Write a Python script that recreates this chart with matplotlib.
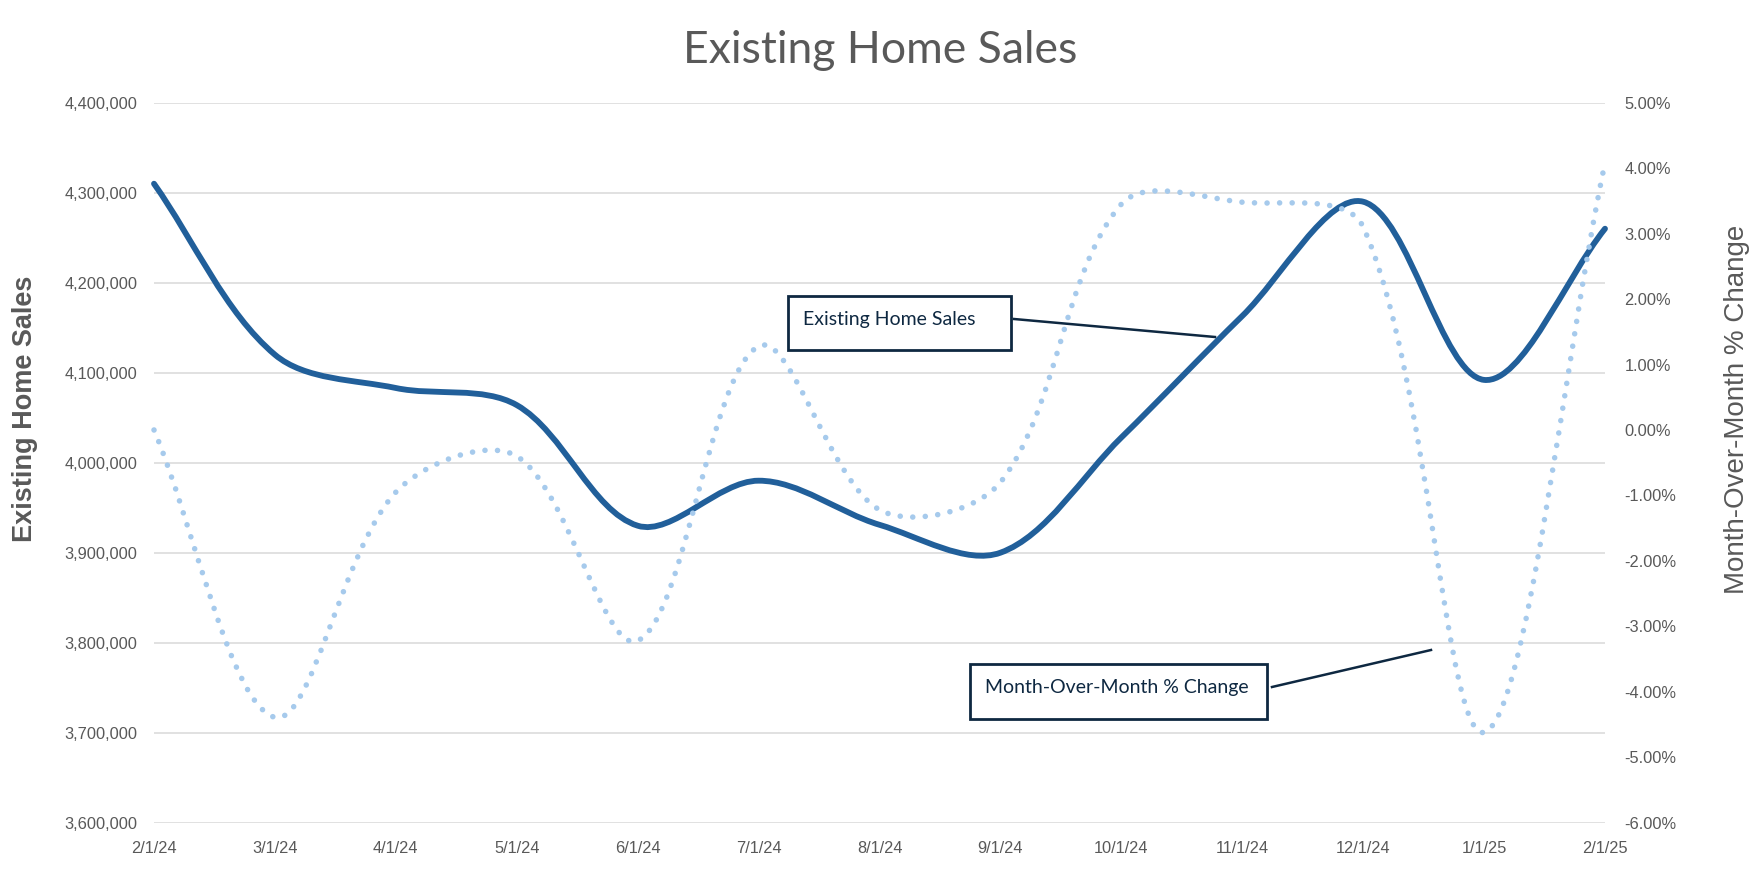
import matplotlib
matplotlib.use("Agg")
import matplotlib.pyplot as plt
import matplotlib.ticker as mticker
from matplotlib.path import Path
from matplotlib.patches import PathPatch, Rectangle
from matplotlib.lines import Line2D
import numpy as np

# monthly data
months = ['2/1/24', '3/1/24', '4/1/24', '5/1/24', '6/1/24', '7/1/24', '8/1/24',
          '9/1/24', '10/1/24', '11/1/24', '12/1/24', '1/1/25', '2/1/25']
home_sales = [4310000, 4120000, 4083000, 4064000, 3930000, 3980000, 3931000,
              3900000, 4028000, 4163000, 4290000, 4092000, 4260000]
mom_change = [0.00, -4.39, -0.95, -0.40, -3.22, 1.28, -1.22,
              -0.80, 3.45, 3.48, 3.10, -4.62, 4.08]  # percent

W, H = 1763, 874
GREY = '#595959'
NAVY = '#0E2841'
TEXT_FONT = ['Lato', 'DejaVu Sans']
TICK_FONT = ['Liberation Sans', 'DejaVu Sans']


def fx(px):
    return px / W


def fy(py):
    return 1 - py / H


def smooth_path(axis, xs, ys):
    """Excel-like smoothed line: cubic Bezier through every point,
    tangents split by chord length (worked out in screen space)."""
    pts = axis.transData.transform(np.column_stack([xs, ys]).astype(float))
    n = len(pts)
    d = np.hypot(*np.diff(pts, axis=0).T)
    verts = [pts[0]]
    codes = [Path.MOVETO]
    for i in range(n - 1):
        # control point leaving pts[i]
        if i == 0:
            c1 = pts[0] + (pts[1] - pts[0]) / 3
        else:
            t = pts[i + 1] - pts[i - 1]
            c1 = pts[i] + t / 3 * d[i] / (d[i - 1] + d[i])
        # control point entering pts[i+1]
        if i + 2 >= n:
            c2 = pts[i + 1] - (pts[i + 1] - pts[i]) / 3
        else:
            t = pts[i + 2] - pts[i]
            c2 = pts[i + 1] - t / 3 * d[i] / (d[i] + d[i + 1])
        verts += [c1, c2, pts[i + 1]]
        codes += [Path.CURVE4] * 3
    verts = axis.transData.inverted().transform(np.array(verts))
    return Path(verts, codes)


fig = plt.figure(figsize=(W / 100, H / 100), dpi=100)
ax = fig.add_axes([fx(154), 1 - 822.7 / H, (1605 - 154) / W, 720 / H])
x = np.arange(len(months))

ax.set_xlim(0, len(months) - 1)
ax.set_ylim(3600000, 4400000)
ax.set_yticks(np.arange(3600000, 4400001, 100000))
ax.yaxis.set_major_formatter(mticker.StrMethodFormatter('{x:,.0f}'))
ax.set_xticks(x)
ax.set_xticklabels(months)
ax.grid(axis='y', color='#D9D9D9', lw=1.1)
ax.set_axisbelow(True)
for s in ax.spines.values():
    s.set_visible(False)
ax.tick_params(axis='both', length=0, labelsize=11.8, labelcolor=GREY)
ax.tick_params(axis='y', pad=12)
ax.tick_params(axis='x', pad=13)

ax2 = ax.twinx()
ax2.set_ylim(-6, 5)
ax2.set_yticks(np.arange(-6, 5.01, 1))
ax2.yaxis.set_major_formatter(mticker.FuncFormatter(lambda v, p: f'{v:.2f}%'))
for s in ax2.spines.values():
    s.set_visible(False)
ax2.tick_params(axis='y', length=0, labelsize=11.8, labelcolor=GREY, pad=14)

sales_patch = PathPatch(smooth_path(ax, x, home_sales), fill=False, ec='#215F9A',
                        lw=4.2, capstyle='round', joinstyle='round', clip_on=False)
ax.add_patch(sales_patch)

mom_patch = PathPatch(smooth_path(ax2, x, mom_change), fill=False, ec='#A6CAEC',
                      lw=4.0, ls=(0, (0.01, 2.25)), capstyle='round', clip_on=False)
ax2.add_patch(mom_patch)

for lab in ax.get_xticklabels() + ax.get_yticklabels() + ax2.get_yticklabels():
    lab.set_family(TICK_FONT)

# titles
fig.text(fx(880), fy(63), 'Existing Home Sales', ha='center', va='baseline',
         fontsize=32, color=GREY, family=TEXT_FONT)
fig.text(fx(25), fy(409), 'Existing Home Sales', rotation=90, ha='center',
         va='center', fontsize=19.5, fontweight='bold', color=GREY, family=TICK_FONT)
fig.text(fx(1737), fy(409), 'Month-Over-Month % Change', rotation=90, ha='center',
         va='center', fontsize=20, color=GREY, family=TICK_FONT)

# callout boxes
boxes = [
    ((788, 296, 1011, 350), (803, 325), 'Existing Home Sales',
     ((1014, 319), (1215, 337))),
    ((970, 664, 1267, 719), (985, 693), 'Month-Over-Month % Change',
     ((1272, 687), (1431, 650))),
]
for (x0, y0, x1, y1), (tx, ty), label, ((lx0, ly0), (lx1, ly1)) in boxes:
    fig.patches.append(Rectangle((fx(x0), fy(y1)), fx(x1 - x0), (y1 - y0) / H,
                                 transform=fig.transFigure, fill=True, fc='white',
                                 ec=NAVY, lw=2.0, zorder=5))
    fig.text(fx(tx), fy(ty), label, ha='left', va='baseline', fontsize=14,
             color=NAVY, family=TEXT_FONT, zorder=6)
    fig.lines.append(Line2D([fx(lx0), fx(lx1)], [fy(ly0), fy(ly1)],
                            transform=fig.transFigure, color=NAVY, lw=1.8, zorder=6))

fig.savefig('out.png', dpi=100)
